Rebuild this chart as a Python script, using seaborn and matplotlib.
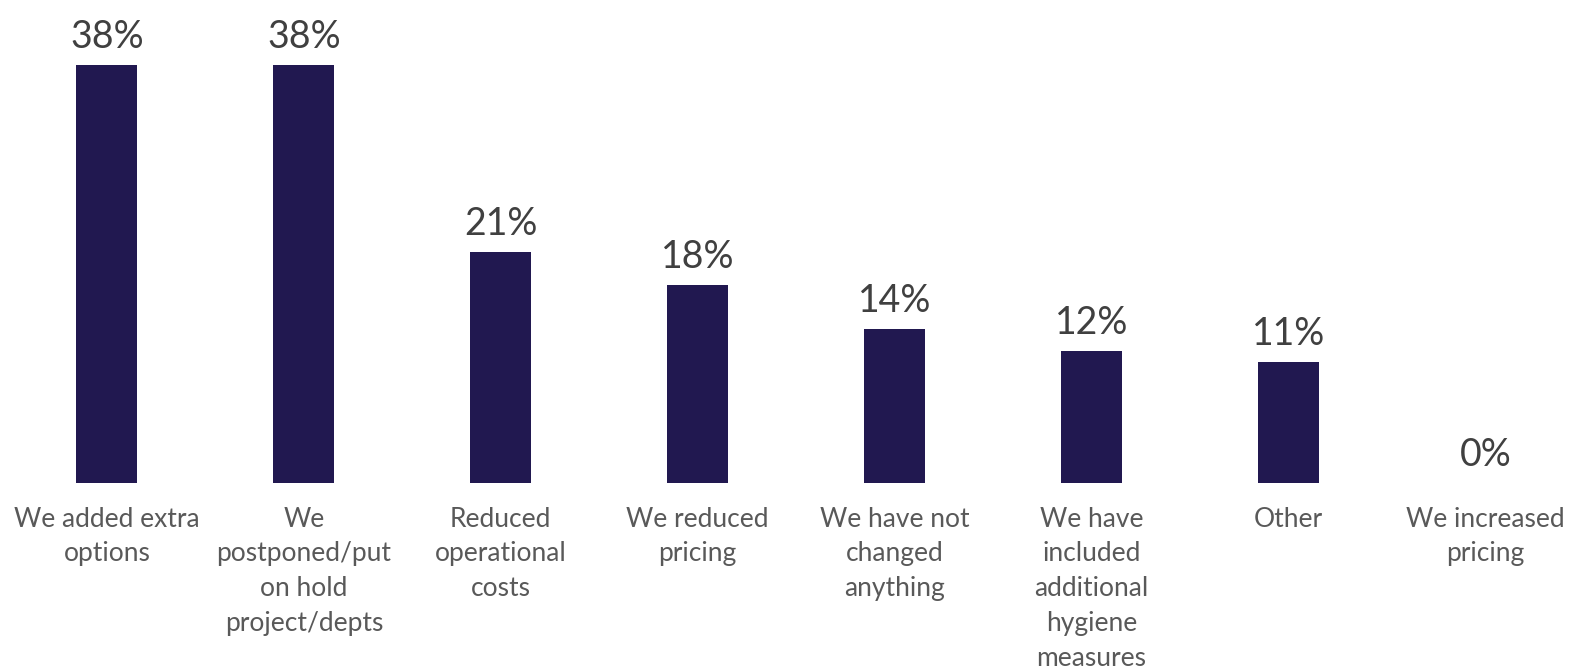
import matplotlib
matplotlib.use("Agg")
import matplotlib.pyplot as plt
import seaborn as sns
import pandas as pd

categories = [
    "We added extra\noptions",
    "We\npostponed/put\non hold\nproject/depts",
    "Reduced\noperational\ncosts",
    "We reduced\npricing",
    "We have not\nchanged\nanything",
    "We have\nincluded\nadditional\nhygiene\nmeasures",
    "Other",
    "We increased\npricing",
]
values = [38, 38, 21, 18, 14, 12, 11, 0]

BAR_COLOR = "#211850"

sns.set_theme(style="white")
plt.rcParams["font.family"] = ["Lato", "DejaVu Sans"]

df = pd.DataFrame({"category": categories, "value": values})

fig = plt.figure(figsize=(15.71, 6.71), dpi=100)
ax = fig.add_axes([0, 0.2802, 1, 0.7198])

sns.barplot(data=df, x="category", y="value", hue="category",
            palette=[BAR_COLOR] * len(categories), legend=False,
            saturation=1, width=0.31, ax=ax, linewidth=0)

ax.set_xlim(-0.543, 7.435)
ax.set_ylim(0, 43.9)

for i, v in enumerate(values):
    ax.annotate(f"{v}%", xy=(i, v), xytext=(0, 7), textcoords="offset points",
                ha="center", va="bottom", fontsize=27, color="#404040")

ax.set_xlabel("")
ax.set_ylabel("")
ax.set_yticks([])
ax.tick_params(axis="x", length=0, pad=17)
for lbl in ax.get_xticklabels():
    lbl.set_fontsize(19)
    lbl.set_color("#595959")
    lbl.set_linespacing(1.49)
    lbl.set_verticalalignment("top")
sns.despine(ax=ax, left=True, bottom=True)

fig.savefig("out.png", dpi=100)
